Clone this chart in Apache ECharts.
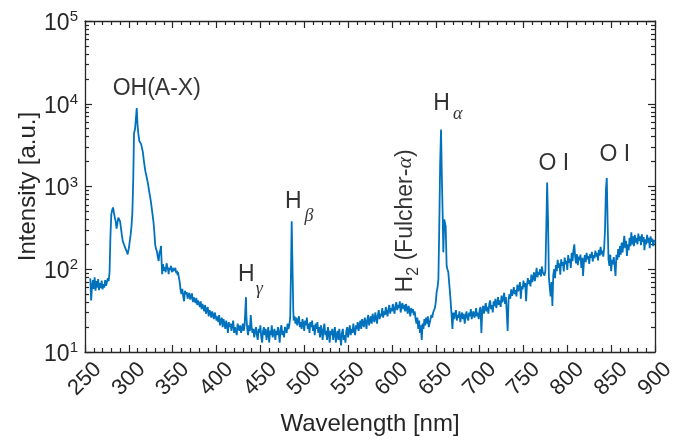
<!DOCTYPE html>
<html><head><meta charset="utf-8">
<script src="https://cdn.jsdelivr.net/npm/echarts@6/dist/echarts.min.js"></script>
<style>html,body{margin:0;padding:0;background:#fff}#c{width:687px;height:441px}</style>
</head><body><div id="c"></div>
<script>
// Spectrum: [wavelength nm, intensity a.u.]
const spectrum = [
[256,78],[257,42],[258,62],[259,74],[260,58],[261,80],[262,55],[263,72],[264,60],[265,76],[266,56],[267,68],[268,59],[269,73],[270,57],[271,66],[272,60],[273,74],[274,63],[275,70],[276,78],[277,72],[278,92],[279,250],[280,460],[281,520],[282,558],[283,480],[284,420],[285,380],[286,310],[286.5,300],[287,360],[288,420],[289,436],[290,380],[291,315],[292,260],[293,220],[294,215],[295,210],[296,180],[297,172],[298,160],[298.6,151],[299,158],[300,180],[301,215],[302,260],[303,330],[304,480],[305,1200],[305.9,4440],[307,4870],[308,6500],[309,8870],[310,5330],[311,4200],[312,3540],[313,3350],[314,3250],[315,3100],[316,2600],[317,2100],[318,1750],[319,1500],[320,1350],[321,1200],[322,1050],[323,900],[324,780],[325,670],[326,560],[327,460],[328,380],[329,290],[330,200],[331,175],[332,165],[333,140],[334,126],[335,160],[336,170],[336.7,191],[337,150],[338,87],[339,115],[340,96],[341,106],[342,92],[343,118],[344,115],[345,95],[345.4,87],[346,104],[347,98],[348,110],[349,92],[350,104],[351,95],[352,100],[353,104],[354,90],[355,96],[355.5,85],[356,92],[357,95],[358,70],[359,56],[360,50],
[361,58],[362,47],[363,41],[364,55],[365,50],[366,53],[367,44],[368,49],[369,52],[370,43],[371,47],[372,51],[373,40],[374,46],[375,44],[376,39],[377,45],[378,37],[379,42],[380,40],[381,35],[382,41],[383,33],[384,38],[385,36],[386,31],[387,37],[388,29],[389,33],[390,35],[391,27],[392,32],[393,30],[394,26],[395,31],[396,28],[397,25],[398,30],[399,27],[400,24],
[401,27],[402,23],[403,28],[404,21],[405,24],[406,26],[407,20],[408,25],[409,22],[410,19],[411,24],[412,21],[413,17],[414,23],[415,20],[416,22],[417,18],[418,21],[419,24],[420,17],[421,20],[422,19],[423,16],[424,22],[425,20],[426,18],[427,21],[428,17],[429,19],[430,22],[431,18],[432,21],[433,35],[433.6,46],[434,28],[435,19],[436,16],[437,21],[438,18],[439,28],[440,20],[441,17],
[442,19],[443,15],[444,18],[445,20],[446,16],[447,14],[448,19],[449,17],[450,21],[451,15],[452,13],[453,18],[454,20],[455,16],[456,19],[457,14],[458,17],[459,20],[460,13],[461,18],[462,16],[463,21],[464,15],[465,17],[466,19],[467,14],[468,18],[469,16],[470,20],[471,17],[472,13],[473,19],[474,21],[475,16],[476,18],[477,15],[478,20],[479,19],[480,17],[481,22],[482,19],[483,21],[484,26],[485,110],[485.7,380],[486.5,130],[487.5,32],[488,24],[489,27],[490,22],
[491,26],[492,21],[493,24],[494,27],[495,20],[496,23],[497,19],[498,25],[499,22],[500,18],[501,24],[502,21],[503,26],[504,19],[505,22],[506,17],[507,23],[508,20],[509,24],[510,18],[511,21],[512,16],[513,22],[514,19],[515,23],[516,17],[517,20],[518,15],[519,21],[520,18],[521,14],[522,19],[523,22],[524,16],[525,18],[526,14],[527,20],[528,17],[529,13],[530,18],[531,16],[532,19],[533,14],[534,17],[535,20],[536,13],[537,16],[538,18],[539,14],[540,19],[541,15],[542,12],[543,17],[544,19],[545,14],[546,16],[547,13],[548,18],[549,20],[550,15],[551,18],[552,21],[553,16],[554,19],[555,17],[556,22],[557,18],[558,16],[559,21],[560,19],
[561,23],[562,18],[563,21],[564,24],[565,19],[566,25],[567,22],[568,20],[569,26],[570,23],[571,19],[572,25],[573,28],[574,21],[575,24],[576,27],[577,22],[578,29],[579,25],[580,23],[581,30],[582,26],[583,22],[584,28],[585,32],[586,25],[587,29],[588,27],[589,34],[590,26],[591,31],[592,28],[593,35],[594,30],[595,27],[596,33],[597,37],[598,29],[599,34],[600,31],[601,38],[602,33],[603,29],[604,36],[605,40],[606,32],[607,37],[608,34],[609,41],[610,30],[611,36],[612,39],[613,33],[614,37],[615,31],[616,38],[617,34],[618,29],[619,36],[620,32],[621,27],[622,34],[623,30],[624,33],[625,28],[626,31],[627,25],
[628,22],[629,26],[630,19],[631,24],[632,17],[633,21],[634,14],[635,22],[636,19],[637,25],[638,21],[639,26],[640,22],[641,27],[642,20],[643,19],[644,25],[645,28],[646,26],[647,30],[648,29],[649,34],[650,40],[651,53],[652,60],[653,76],[654,330],[655,1900],[656,4870],[657,1200],[658,400],[658.6,160],[659.7,400],[660.5,380],[661.3,330],[662.4,110],[663.3,100],[664.3,92],[665.2,70],[666.2,53],[667,40],
[668,28],[669,19],[670,30],[671,25],[672,29],[673,32],[674,24],[675,28],[676,26],[677,31],[678,23],[679,27],[680,30],[681,25],[682,29],[683,22],[684,27],[685,31],[686,26],[687,24],[688,30],[689,27],[690,33],[691,25],[692,29],[693,31],[694,26],[695,28],[696,34],[697,27],[698,30],[699,25],[700,32],[701,35],[702,17],[703,31],[704,36],[705,29],[706,34],[707,39],[708,31],[709,35],[710,29],[711,38],[712,42],[713,33],[714,37],[715,30],[716,41],[717,36],[718,44],[719,34],[720,39],[721,46],[722,37],[723,42],[724,35],[725,48],[726,40],[727,44],[728,52],[729,38],[730,46],[731,29],[732,18],[733,43],[734,50],[735,44],[736,57],[737,48],[738,52],[739,61],[740,50],[741,56],[742,47],[743,65],[744,54],[745,60],[746,70],[747,44],[748,62],[749,57],[750,73],[751,61],[752,68],[753,41],[754,64],[755,78],[756,66],[757,74],[758,62],[759,86],[760,70],[761,77],[762,92],[763,72],[764,84],[765,104],[766,80],[767,93],[768,86],[769,100],[770,82],[771,108],[772,92],[773,97],[774,84],[775,96],[776,300],[777,1120],[778,400],[779,80],[780,60],[781,47],[782,70],[783,36],[784,85],
[785,100],[786,78],[787,112],[788,95],[789,130],[790,104],[791,118],[792,86],[793,132],[794,110],[795,122],[796,94],[797,138],[798,115],[799,126],[800,98],[801,148],[802,120],[803,134],[804,104],[805,158],[806,125],[807,170],[808,200],[809,138],[810,118],[811,152],[812,112],[813,142],[814,128],[815,150],[816,104],[817,138],[818,83],[819,128],[820,148],[821,122],[822,158],[823,132],[824,144],[825,116],[826,152],[827,138],[828,162],[829,124],[830,148],[831,136],[832,168],[833,142],[834,158],[835,128],[836,172],[837,146],[838,186],[839,152],[840,168],[841,142],[842,178],[843,300],[844,900],[845,1270],[846,350],[847,130],[848,110],[849,150],[850,95],[851,130],[852,115],[853,140],[854,110],[855,83],[856,150],[857,130],[858,175],[859,140],[860,190],[861,150],[862,210],[863,160],[864,200],[865,253],[866,180],[867,220],[868,145],[869,200],[870,170],[871,240],[872,190],[873,280],[874,200],[875,250],[876,190],[877,260],[878,210],[879,240],[880,200],[881,270],[882,220],[883,250],[884,195],[885,265],[886,215],[887,245],[888,170],[889,230],[890,200],[891,260],[892,210],[893,240],[894,180],[895,250],[896,215],[897,235],[898,190],[899,225],[900,215]
];

// Axis ticks
const xMin = 250, xMax = 900, xStep = 50;
const yMajor = [10, 100, 1000, 10000, 100000];
const yMinor = [20,30,40,50,60,70,80,90,200,300,400,500,600,700,800,900,2000,3000,4000,5000,6000,7000,8000,9000,20000,30000,40000,50000,60000,70000,80000,90000];

// Annotations (text, wavelength, intensity anchor)
const annoText = ['OH(A-X)', '{h|H}{gg|γ}', '{h|H}{gb|β}', '{h|H}{ga|α}', 'O I', 'O I', '{h|H}{s2|2}{h| (Fulcher-}{ai|α}{h|)}'];
const annoX = [331.8, 424.5, 478.0, 647.2, 784.5, 854.3, 602.3];
const annoY = [15400, 118, 912, 13960, 1893, 2432, 52.4];

const FONT = 'Liberation Sans';
const AX = '#262626';
const annoAlign = ['center','left','left','left','center','center','left'];
const annoVAlign = ['middle','top','top','top','middle','middle','top'];
const annoRot = [0,0,0,0,0,0,90];

const richAnno = {
  h: {fontFamily: FONT, fontSize: 23, lineHeight: 23, verticalAlign: 'top', color: '#000'},
  gg: {fontFamily: 'Liberation Serif', fontStyle: 'italic', fontSize: 18, lineHeight: 18, verticalAlign: 'top', padding: [17,0,0,1], color: '#000'},
  gb: {fontFamily: 'Liberation Serif', fontStyle: 'italic', fontSize: 18, lineHeight: 18, verticalAlign: 'top', padding: [17,0,0,3], color: '#000'},
  ga: {fontFamily: 'Liberation Serif', fontStyle: 'italic', fontSize: 18, lineHeight: 18, verticalAlign: 'top', padding: [14,0,0,3], color: '#000'},
  s2: {fontFamily: FONT, fontSize: 16, lineHeight: 16, verticalAlign: 'top', padding: [12,0,0,0], color: '#000'},
  ai: {fontFamily: 'Liberation Serif', fontStyle: 'italic', fontSize: 22, lineHeight: 23, verticalAlign: 'top', color: '#000'}
};

const annoData = annoText.map((t, i) => ({
  value: [annoX[i], annoY[i]],
  label: {formatter: t, align: annoAlign[i], verticalAlign: annoVAlign[i], rotate: annoRot[i]}
}));

const tickCommon = {inside: true, length: 7, lineStyle: {color: AX, width: 1.2}};
const minorCommon = {show: true, splitNumber: 5, length: 4, lineStyle: {color: AX, width: 1.2}};
const lineCommon = {show: true, onZero: false, lineStyle: {color: AX, width: 1.3}};

const chart = echarts.init(document.getElementById('c'), null, {renderer: 'canvas'});
chart.setOption({
  animation: false,
  backgroundColor: '#fff',
  grid: {left: 85, right: 32, top: 21, bottom: 88, containLabel: false},
  xAxis: [
    {type: 'value', position: 'bottom', min: xMin, max: xMax, interval: xStep,
     axisLine: lineCommon, axisTick: tickCommon, minorTick: minorCommon, splitLine: {show: false},
     axisLabel: {rotate: 45, align: 'center', verticalAlign: 'middle', margin: 27, fontFamily: FONT, fontSize: 22, color: AX},
     name: 'Wavelength [nm]', nameLocation: 'middle', nameGap: 60, nameMoveOverlap: false,
     nameTextStyle: {fontFamily: FONT, fontSize: 24, color: AX}},
    {type: 'value', position: 'top', min: xMin, max: xMax, interval: xStep,
     axisLine: lineCommon, axisTick: tickCommon, minorTick: minorCommon, splitLine: {show: false},
     axisLabel: {show: false}}
  ],
  yAxis: [
    {type: 'log', logBase: 10, position: 'left', min: 10, max: 100000,
     axisLine: lineCommon, axisTick: Object.assign({customValues: yMajor}, tickCommon), splitLine: {show: false},
     axisLabel: {customValues: yMajor, margin: 7, fontFamily: FONT, color: AX,
       formatter: v => '{b|10}{s|' + Math.round(Math.log10(v)) + '}',
       rich: {b: {fontFamily: FONT, fontSize: 23, lineHeight: 23, padding: [5,0,0,0], color: AX},
              s: {fontFamily: FONT, fontSize: 15, lineHeight: 15, verticalAlign: 'top', color: AX}}},
     name: 'Intensity [a.u.]', nameLocation: 'middle', nameGap: 45, nameMoveOverlap: false,
     nameTextStyle: {fontFamily: FONT, fontSize: 24, color: AX}},
    {type: 'log', logBase: 10, position: 'left', min: 10, max: 100000,
     axisLine: {show: false}, axisTick: {show: true, inside: true, length: 4, customValues: yMinor, lineStyle: {color: AX, width: 1.2}},
     axisLabel: {show: false}, splitLine: {show: false}},
    {type: 'log', logBase: 10, position: 'right', min: 10, max: 100000,
     axisLine: lineCommon, axisTick: Object.assign({customValues: yMajor}, tickCommon),
     axisLabel: {show: false}, splitLine: {show: false}},
    {type: 'log', logBase: 10, position: 'right', min: 10, max: 100000,
     axisLine: {show: false}, axisTick: {show: true, inside: true, length: 4, customValues: yMinor, lineStyle: {color: AX, width: 1.2}},
     axisLabel: {show: false}, splitLine: {show: false}}
  ],
  series: [
    {type: 'line', xAxisIndex: 0, yAxisIndex: 0, data: spectrum, showSymbol: false, symbol: 'none',
     lineStyle: {color: '#0072BD', width: 1.8}, sampling: false, z: 3},
    {type: 'scatter', xAxisIndex: 0, yAxisIndex: 0, data: annoData, symbolSize: 1,
     itemStyle: {color: 'transparent'}, silent: true, z: 5,
     label: {show: true, position: 'inside', fontFamily: FONT, fontSize: 23, color: '#000', rich: richAnno}}
  ]
});
</script>
</body></html>
